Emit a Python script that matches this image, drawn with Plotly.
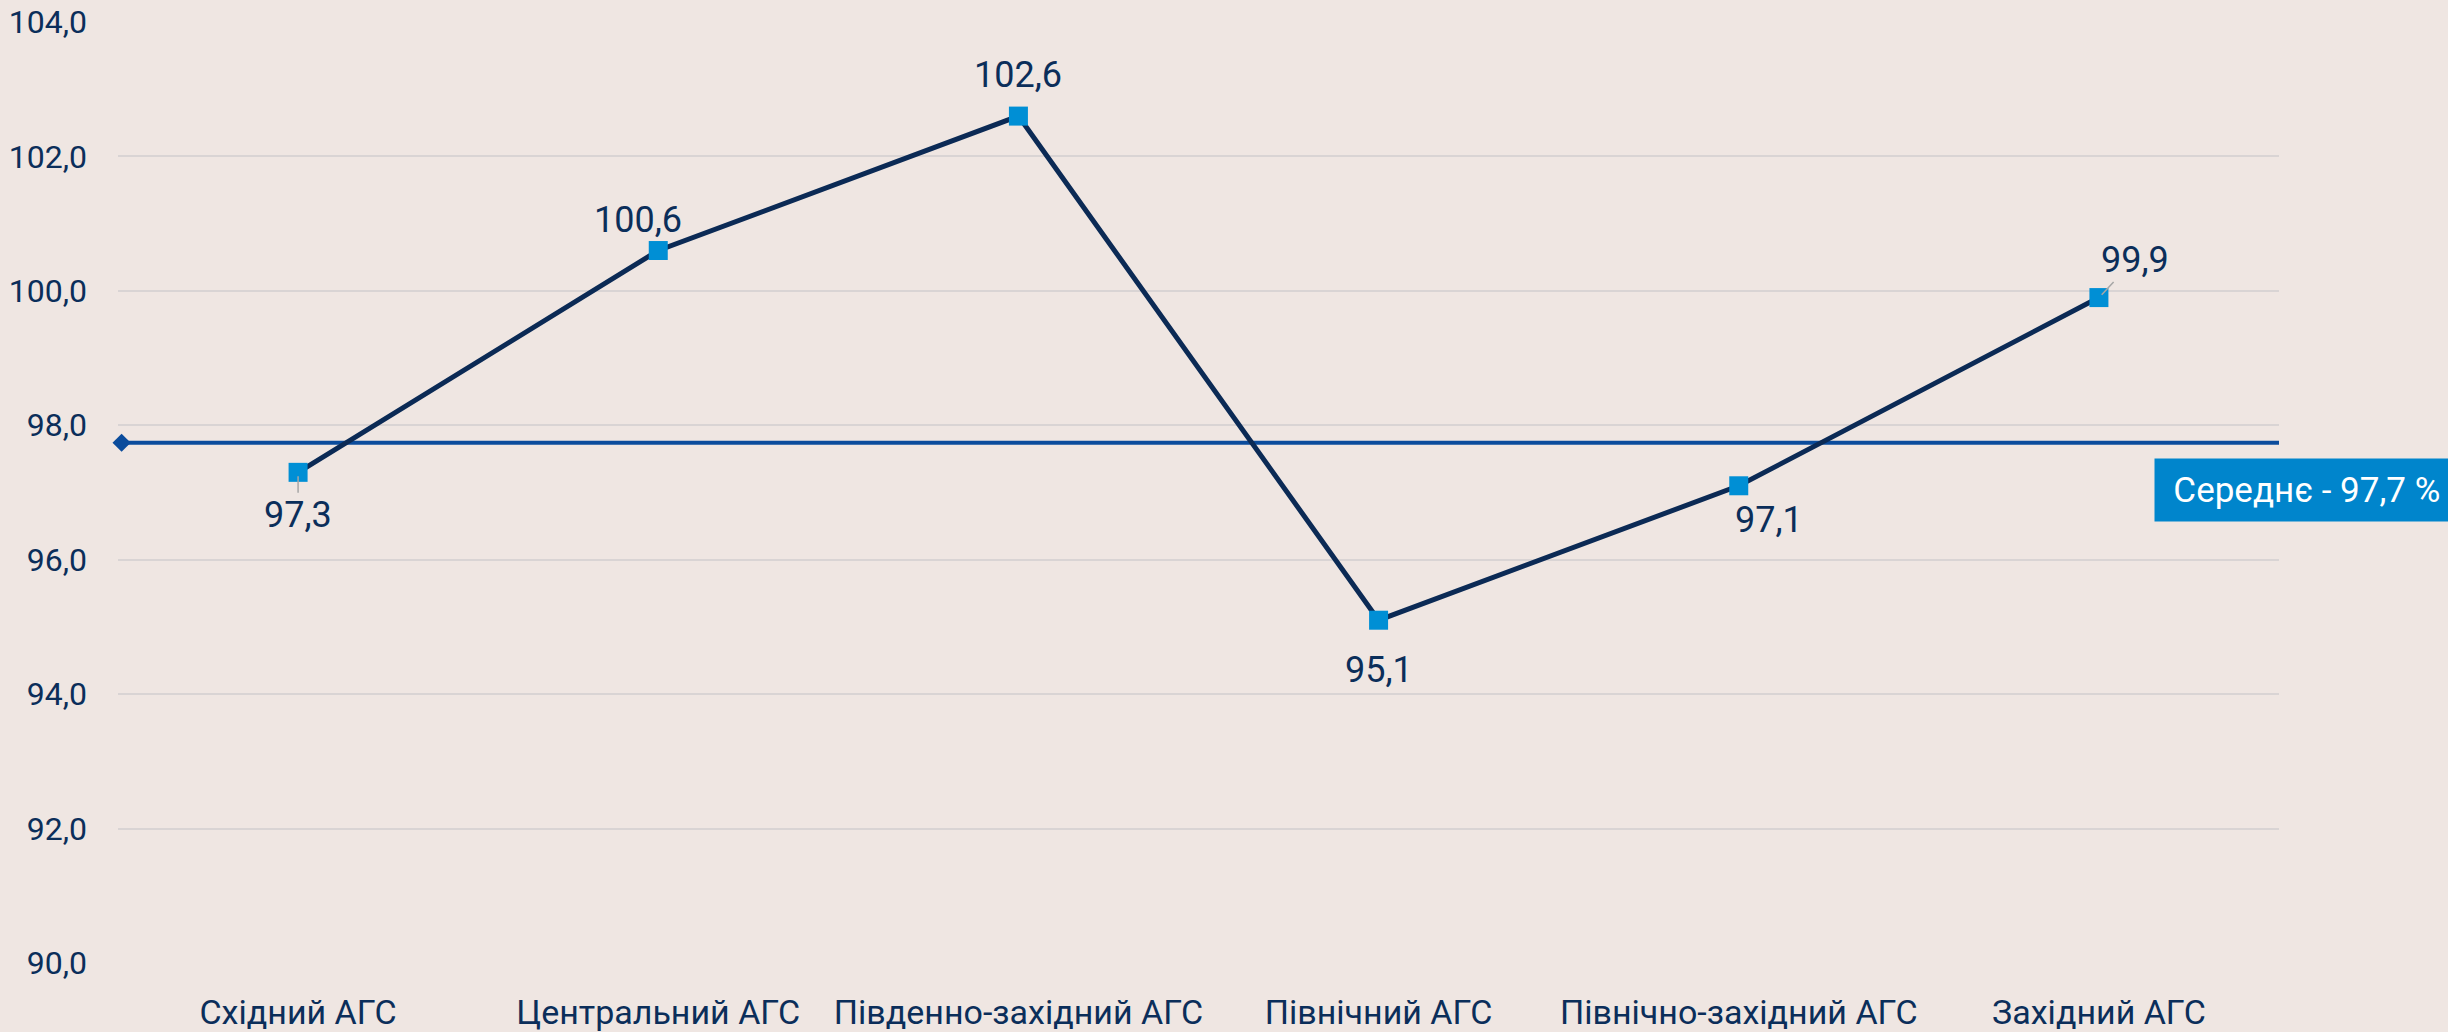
import plotly.graph_objects as go

CATEGORIES = ["Східний АГС", "Центральний АГС", "Південно-західний АГС",
              "Північний АГС", "Північно-західний АГС", "Західний АГС"]
VALUES = [97.3, 100.6, 102.6, 95.1, 97.1, 99.9]
AVERAGE = 97.74
AVERAGE_TEXT = "Середнє - 97,7 %"
Y_TICKS = [90, 92, 94, 96, 98, 100, 102, 104]

# label offsets (px) from each point: (dx, dy), and whether a leader line is drawn
LABEL_OFFSETS = [(0, 43), (-20, -31), (0, -41), (0, 50), (30, 34), (36, -38)]
LEADER = [True, False, False, False, False, True]

BG = "#EFE6E2"
NAVY = "#0B2A55"
TEXT = "#0B2E5A"
FONT = "Roboto, sans-serif"

xs = list(range(len(CATEGORIES)))

fig = go.Figure()
fig.add_trace(go.Scatter(
    x=[-0.49, len(CATEGORIES) - 0.47], y=[AVERAGE, AVERAGE], mode="lines+markers",
    line=dict(color="#0B4C9C", width=4), marker=dict(symbol="diamond", size=14, color="#0B4C9C"),
    cliponaxis=False, hoverinfo="skip",
))
fig.add_trace(go.Scatter(
    x=xs, y=VALUES, mode="lines+markers",
    line=dict(color=NAVY, width=5),
    marker=dict(symbol="square", size=19, color="#008FD5"),
    cliponaxis=False,
))

for x, v, (dx, dy), lead in zip(xs, VALUES, LABEL_OFFSETS, LEADER):
    label = f"{v:.1f}".replace(".", ",")
    if lead:
        fig.add_annotation(
            x=x, y=v, text=label, showarrow=True, arrowhead=0,
            arrowwidth=1.5, arrowcolor="#A6A6A6", standoff=4, ax=dx, ay=dy,
            font=dict(size=36, color=TEXT, family=FONT),
        )
    else:
        fig.add_annotation(
            x=x, y=v, text=label, showarrow=False, xshift=dx, yshift=-dy,
            font=dict(size=36, color=TEXT, family=FONT),
        )

fig.add_annotation(
    xref="paper", yref="paper", x=0.942, y=0.503, xanchor="left", yanchor="middle",
    text="\u00a0\u00a0" + AVERAGE_TEXT, showarrow=False, bgcolor="#0085CC", width=330, height=60,
    borderpad=1, align="left", font=dict(size=35, color="white", family=FONT),
)

fig.update_layout(
    width=2448, height=1032,
    margin=dict(l=118, r=169, t=22, b=69),
    paper_bgcolor=BG, plot_bgcolor=BG,
    font=dict(family=FONT, color=TEXT, size=36),
    separators=", ",
    showlegend=False,
    xaxis=dict(range=[-0.5, len(CATEGORIES) - 0.5], tickvals=xs, ticktext=CATEGORIES,
               showgrid=False, zeroline=False, showline=False, ticklabelstandoff=26,
               tickangle=0, automargin=False, tickfont=dict(size=34)),
    yaxis=dict(range=[90, 104], tickvals=Y_TICKS, tickformat=".1f", showgrid=True,
               gridcolor="#D9D4D4", gridwidth=2, zeroline=False, showline=False,
               automargin=False, ticklabelstandoff=30, tickfont=dict(size=32)),
)

fig.write_html("out.html", config={"displayModeBar": False},
               post_script="document.body.style.margin='0';")
